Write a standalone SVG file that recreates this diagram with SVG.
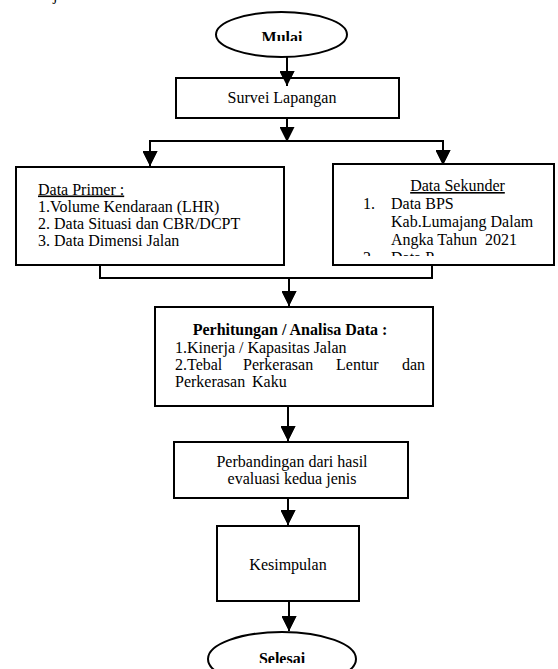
<svg xmlns="http://www.w3.org/2000/svg" width="558" height="669" viewBox="0 0 558 669">
<style>
  .box { fill: #fff; stroke: #000; stroke-width: 2; }
  .conn { fill: none; stroke: #000; stroke-width: 2; }
  .t { font-family: "Liberation Serif", "Times New Roman", serif; font-size: 16px; fill: #000; }
  .b { font-weight: bold; }
</style>
<defs>
  <marker id="arr" markerUnits="userSpaceOnUse" markerWidth="15" markerHeight="15" refX="15" refY="7.5" orient="auto">
    <path d="M0,0 L15,7.5 L0,15 z" fill="#000"/>
  </marker>
  <clipPath id="clipMulai"><rect x="200" y="0" width="160" height="41"/></clipPath>
  <clipPath id="clipSelesai"><rect x="200" y="600" width="160" height="63"/></clipPath>
  <clipPath id="clipSek"><rect x="333" y="164" width="221" height="92"/></clipPath>
</defs>

<text class="t" x="53" y="-0.5">j</text>

<g id="connectors">
  <line class="conn" x1="287" y1="57" x2="287" y2="86" marker-end="url(#arr)"/>
  <line class="conn" x1="287" y1="118" x2="287" y2="142" marker-end="url(#arr)"/>
  <polyline class="conn" points="150,141 443,141"/>
  <line class="conn" x1="150" y1="140" x2="150" y2="166" marker-end="url(#arr)"/>
  <line class="conn" x1="443" y1="140" x2="443" y2="165" marker-end="url(#arr)"/>
  <polyline class="conn" points="100,265 100,278 432,278 432,265"/>
  <line class="conn" x1="289" y1="278" x2="289" y2="306" marker-end="url(#arr)"/>
  <line class="conn" x1="288" y1="406" x2="288" y2="441" marker-end="url(#arr)"/>
  <line class="conn" x1="288" y1="498" x2="288" y2="525" marker-end="url(#arr)"/>
  <line class="conn" x1="289" y1="601" x2="289" y2="631" marker-end="url(#arr)"/>
</g>

<g id="mulai">
  <ellipse class="box" cx="281.5" cy="34.5" rx="65.5" ry="22.5"/>
  <text class="t b" x="282" y="43" text-anchor="middle" font-size="15.6" clip-path="url(#clipMulai)">Mulai</text>
</g>

<g id="survei">
  <rect class="box" x="176" y="78" width="223" height="40"/>
  <text class="t" x="282" y="103" text-anchor="middle" font-size="14">Survei Lapangan</text>
</g>
<line class="conn" x1="287" y1="78" x2="287" y2="86" marker-end="url(#arr)"/>

<g id="data-primer">
  <rect class="box" x="16" y="167" width="268" height="98"/>
  <text class="t" x="38" y="194.5" text-decoration="underline">Data Primer :</text>
  <text class="t" x="38" y="211.8">1.Volume Kendaraan (LHR)</text>
  <text class="t" x="38" y="229.1">2. Data Situasi dan CBR/DCPT</text>
  <text class="t" x="38" y="246.4">3. Data Dimensi Jalan</text>
</g>
<line class="conn" x1="150" y1="160" x2="150" y2="166" marker-end="url(#arr)"/>

<g id="data-sekunder">
  <rect class="box" x="333" y="164" width="221" height="101"/>
  <g clip-path="url(#clipSek)">
    <text class="t" x="457.5" y="191" text-anchor="middle" text-decoration="underline">Data Sekunder</text>
    <text class="t" x="363" y="209">1.</text>
    <text class="t" x="391" y="209">Data BPS</text>
    <text class="t" x="391" y="227">Kab.Lumajang Dalam</text>
    <text class="t" y="245"><tspan x="391">Angka Tahun</tspan><tspan x="485">2021</tspan></text>
    <text class="t" x="363" y="263">2.</text>
    <text class="t" x="391" y="263">Data P</text>
  </g>
</g>
<line class="conn" x1="443" y1="160" x2="443" y2="165" marker-end="url(#arr)"/>

<g id="perhitungan">
  <rect class="box" x="155" y="307" width="278" height="99"/>
  <text class="t b" x="290" y="335" text-anchor="middle">Perhitungan / Analisa Data :</text>
  <text class="t" x="175" y="352.5">1.Kinerja / Kapasitas Jalan</text>
  <text class="t" y="370"><tspan x="175">2.Tebal</tspan><tspan x="243">Perkerasan</tspan><tspan x="336">Lentur</tspan><tspan x="425" text-anchor="end">dan</tspan></text>
  <text class="t" y="387"><tspan x="175">Perkerasan</tspan><tspan x="252">Kaku</tspan></text>
</g>
<line class="conn" x1="289" y1="300" x2="289" y2="306" marker-end="url(#arr)"/>

<g id="perbandingan">
  <rect class="box" x="174" y="442" width="234" height="56"/>
  <text class="t" x="292" y="467" text-anchor="middle">Perbandingan dari hasil</text>
  <text class="t" x="292" y="484" text-anchor="middle">evaluasi kedua jenis</text>
</g>
<line class="conn" x1="288" y1="435" x2="288" y2="441" marker-end="url(#arr)"/>

<g id="kesimpulan">
  <rect class="box" x="217" y="526" width="142" height="75"/>
  <text class="t" x="288" y="570" text-anchor="middle">Kesimpulan</text>
</g>
<line class="conn" x1="288" y1="520" x2="288" y2="525" marker-end="url(#arr)"/>

<g id="selesai">
  <ellipse class="box" cx="282" cy="659" rx="74" ry="27"/>
  <text class="t b" x="282" y="664" text-anchor="middle" font-size="15.6" clip-path="url(#clipSelesai)">Selesai</text>
</g>
<line class="conn" x1="289" y1="625" x2="289" y2="631" marker-end="url(#arr)"/>
</svg>
